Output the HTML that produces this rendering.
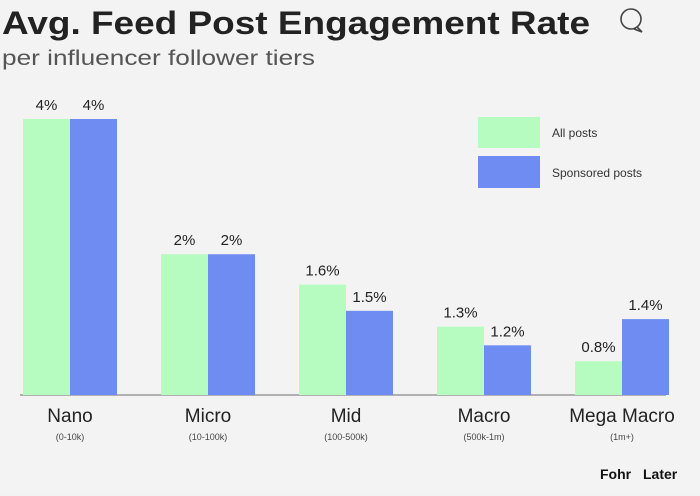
<!DOCTYPE html>
<html><head><meta charset="utf-8"><style>
body{margin:0;background:#f2f2f2;width:700px;height:491px;overflow:hidden;font-family:"Liberation Sans",sans-serif}
</style></head><body>
<svg width="700" height="491" viewBox="0 0 700 491" id="c">
<rect width="700" height="491" fill="#f3f3f3"/>
<text x="2" y="34" font-size="32" font-weight="bold" fill="#222" textLength="588" lengthAdjust="spacingAndGlyphs">Avg. Feed Post Engagement Rate</text>
<g><circle cx="631" cy="19" r="10" fill="none" stroke="#444" stroke-width="1.6"/><path d="M637 27 L642 32 L634 29" fill="none" stroke="#444" stroke-width="1.6"/></g>
<text x="2" y="65" font-size="21" fill="#555" textLength="313" lengthAdjust="spacingAndGlyphs">per influencer follower tiers</text>
<rect x="478" y="117" width="62" height="31" fill="#b6fbc0"/>
<text x="552" y="137" font-size="12" fill="#333">All posts</text>
<rect x="478" y="156" width="62" height="32" fill="#6f8cf2"/>
<text x="552" y="177" font-size="12" fill="#333">Sponsored posts</text>
<line x1="20" y1="395" x2="666" y2="395" stroke="#999" stroke-width="1.5"/>
<g id="bars"></g>
<text x="600" y="479" font-size="14" font-weight="bold" fill="#111">Fohr</text>
<text x="643" y="479" font-size="14" font-weight="bold" fill="#111">Later</text>
</svg>
<script>
const categories=["Nano","Micro","Mid","Macro","Mega Macro"];
const subLabels=["(0-10k)","(10-100k)","(100-500k)","(500k-1m)","(1m+)"];
const allPosts=[4,2.04,1.6,0.99,0.49];
const sponsored=[4,2.04,1.22,0.72,1.1];
const allLabels=["4%","2%","1.6%","1.3%","0.8%"];
const sponsoredLabels=["4%","2%","1.5%","1.2%","1.4%"];
const ns="http://www.w3.org/2000/svg";
const g=document.getElementById('bars');
const base=395, pxPer=69;
function y(v){return base-v*pxPer;}
function xc(i){return 70+i*138;}
function mk(t,a){const e=document.createElementNS(ns,t);for(const k in a)e.setAttribute(k,a[k]);g.appendChild(e);return e;}
const bw=47;
categories.forEach((c,i)=>{
 const cx=xc(i);
 let r=mk('rect',{x:cx-bw,y:y(allPosts[i]),width:bw,height:allPosts[i]*pxPer,fill:'#b6fbc0'});
 
 
 r=mk('rect',{x:cx,y:y(sponsored[i]),width:bw,height:sponsored[i]*pxPer,fill:'#6f8cf2'});
 
 
 let t=mk('text',{x:cx-bw/2,y:y(allPosts[i])-9,'text-anchor':'middle','font-size':15,fill:'#222'});t.textContent=allLabels[i];
 
 
 t=mk('text',{x:cx+bw/2,y:y(sponsored[i])-9,'text-anchor':'middle','font-size':15,fill:'#222'});t.textContent=sponsoredLabels[i];
 
 
 t=mk('text',{x:cx,y:422,'text-anchor':'middle','font-size':19,fill:'#222'});t.textContent=c;
 
 
 t=mk('text',{x:cx,y:440,'text-anchor':'middle','font-size':9,fill:'#444'});t.textContent=subLabels[i];
 
 
});
</script>
</body></html>
